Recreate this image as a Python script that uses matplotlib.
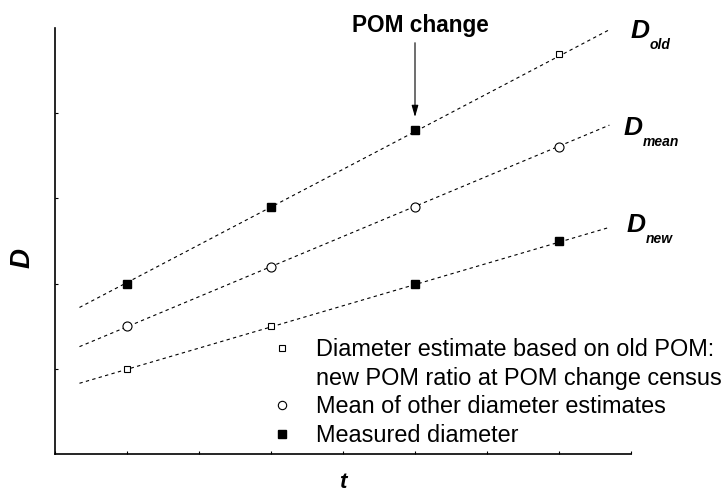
import matplotlib
matplotlib.use("Agg")
import matplotlib.pyplot as plt
from matplotlib.lines import Line2D

plt.rcParams['font.family'] = ['Liberation Sans', 'DejaVu Sans']

# census times and diameter series
t = [1, 2, 3, 4]
D_old = [2.0, 2.9, 3.8, 4.7]
D_mean = [1.5, 2.2, 2.9, 3.6]
D_new = [1.0, 1.5, 2.0, 2.5]

# which points are measured (filled) vs estimated (open square)
old_measured = [True, True, True, False]
new_measured = [False, False, True, True]

# dashed trend lines (start / end)
line_t = [0.67, 4.35]
line_old = [1.72, 4.98]
line_mean = [1.26, 3.86]
line_new = [0.83, 2.66]

subscripts = ["old", "mean", "new"]
legend_labels = ["Diameter estimate based on old POM:",
                 "new POM ratio at POM change census",
                 "Mean of other diameter estimates",
                 "Measured diameter"]

fig = plt.figure(figsize=(7.25, 4.92), dpi=100)
ax = fig.add_axes([55/725, 38/492, 576/725, 426/492])

dash = dict(color='black', lw=0.8, linestyle=(0, (3, 3)))
ax.plot(line_t, line_old, **dash)
ax.plot(line_t, line_mean, **dash)
ax.plot(line_t, line_new, **dash)

filled = dict(marker='s', ms=6, mfc='black', mec='black', ls='none')
open_sq = dict(marker='s', ms=5, mfc='white', mec='black', mew=0.8, ls='none')
open_ci = dict(marker='o', ms=6.5, mfc='white', mec='black', mew=0.8, ls='none')

for x, y, m in zip(t, D_old, old_measured):
    ax.plot(x, y, **(filled if m else open_sq))
for x, y, m in zip(t, D_new, new_measured):
    ax.plot(x, y, **(filled if m else open_sq))
ax.plot(t, D_mean, **open_ci)

# series labels at the end of each line
for yl, sub, off in zip([line_old, line_mean, line_new], subscripts,
                        [(15, -6), (10, -7), (12, -3)]):
    ax.annotate("D", xy=(line_t[1], yl[1]), xytext=off, textcoords='offset points',
                fontsize=19, fontweight='bold', fontstyle='italic',
                ha='left', va='baseline', annotation_clip=False)
    ax.annotate(sub, xy=(line_t[1], yl[1]), xytext=(off[0] + 14, off[1] - 8),
                textcoords='offset points', fontsize=10, fontweight='bold',
                fontstyle='italic', ha='left', va='baseline', annotation_clip=False)

# POM change arrow
ax.annotate("", xy=(t[2], D_old[2]), xytext=(0, 63), textcoords='offset points',
            arrowprops=dict(arrowstyle='-|>,head_length=0.7,head_width=0.2',
                            color='black', lw=0.8, shrinkA=0, shrinkB=9.5))
ax.annotate("POM change", xy=(t[2], D_old[2]), xytext=(4, 71), textcoords='offset points',
            fontsize=16.3, fontweight='bold', ha='center', va='baseline',
            annotation_clip=False)

# legend
handles = [Line2D([], [], **open_sq),
           Line2D([], [], ls='none'),
           Line2D([], [], **{**open_ci, 'ms': 6}),
           Line2D([], [], **filled)]
leg = ax.legend(handles, legend_labels, loc='upper left', bbox_to_anchor=(0.378, 0.272),
                frameon=False, fontsize=16.9, handlelength=0.8, handletextpad=1.05,
                labelspacing=0.24, borderpad=0, borderaxespad=0)

ax.set_xlim(0.5, 4.5)
ax.set_ylim(0, 5)
ax.set_xticks([0.5, 1, 1.5, 2, 2.5, 3, 3.5, 4, 4.5])
ax.set_yticks([1, 2, 3, 4])
ax.set_xticklabels([])
ax.set_yticklabels([])
ax.tick_params(direction='in', length=2, width=0.8)
for s in ['top', 'right']:
    ax.spines[s].set_visible(False)
for s in ['left', 'bottom']:
    ax.spines[s].set_linewidth(1.2)

ax.set_xlabel("t", fontsize=16, fontweight='bold', fontstyle='italic')
ax.set_ylabel("D", fontsize=20, fontweight='bold', fontstyle='italic')
ax.xaxis.label.set_va('center')
ax.yaxis.label.set_va('center')
ax.xaxis.set_label_coords(0.5, (454 - 483) / 426)
ax.yaxis.set_label_coords((23 - 55) / 576, (454 - 258) / 426)

fig.savefig("out.png", dpi=100)
